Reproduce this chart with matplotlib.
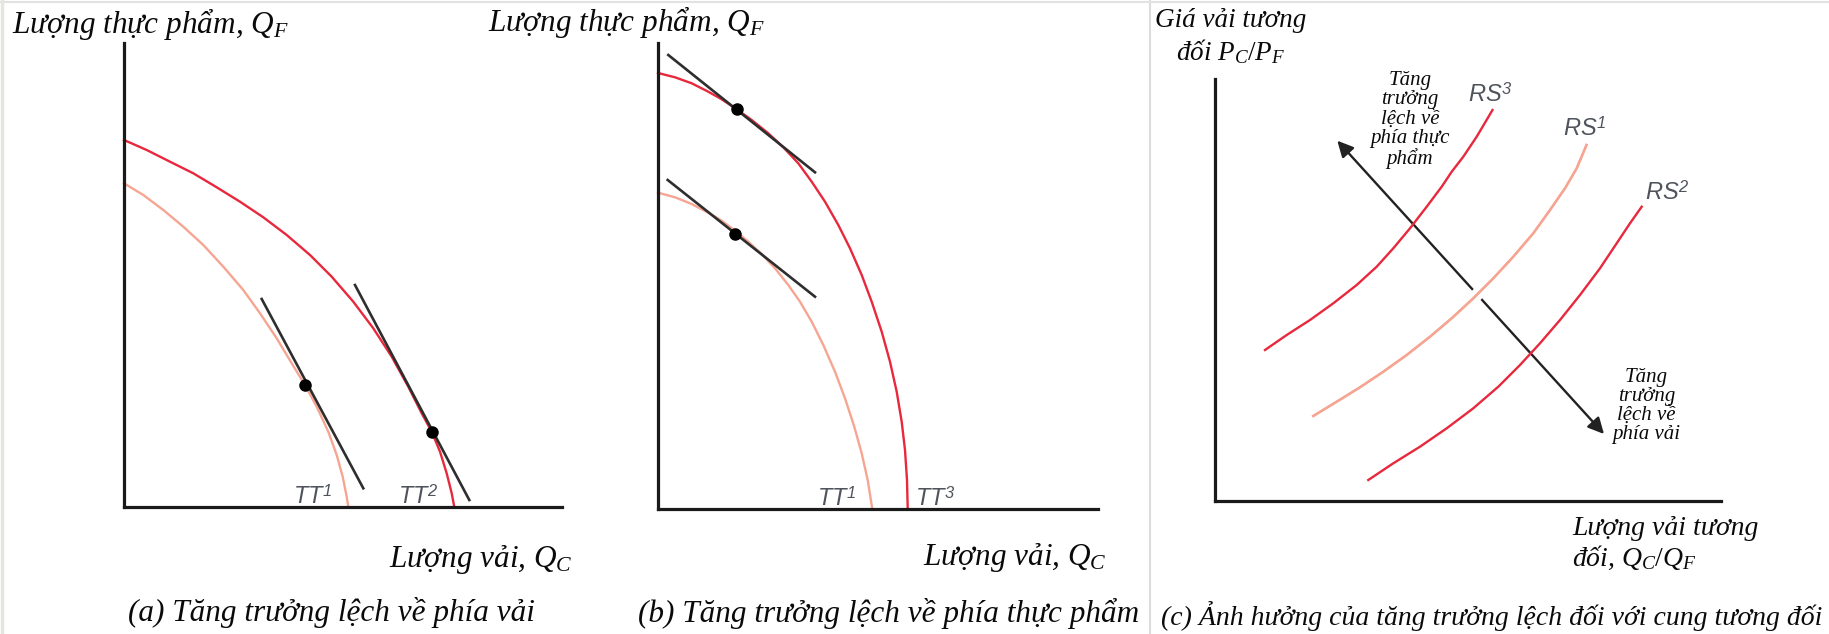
import matplotlib.pyplot as plt
import matplotlib.patheffects as pe
from matplotlib.lines import Line2D

plt.rcParams['mathtext.fontset'] = 'custom'
plt.rcParams['mathtext.it'] = 'Liberation Serif:italic'
plt.rcParams['mathtext.rm'] = 'Liberation Serif'
plt.rcParams['mathtext.sf'] = 'Liberation Sans:italic'

W, H = 1829, 634

# ---- data (units: pixels from each panel's origin) ----
# panel (a): growth biased toward cloth
a_tt2_x = [0, 22.7, 46, 69.3, 92.7, 116, 139.3, 162.7, 186, 207.7, 229.3, 249.3,
           267.7, 284.3, 297.7, 307.7, 316, 322.7, 327.7, 330.3]
a_tt2_y = [367, 357, 345.3, 333.7, 319.7, 305.3, 289.7, 272, 252, 230.3, 205.3, 178.7,
           150.3, 120.3, 93.7, 75.3, 55.3, 33.7, 13.7, 0]
a_tt1_x = [0, 19.3, 39.3, 59.3, 79.3, 99.3, 119.3, 136, 152.7, 167.7, 181, 192.7,
           204.3, 212.7, 218.7, 222.7, 224.3]
a_tt1_y = [323.7, 312, 297, 280.3, 262, 240.3, 217, 193.7, 168.7, 143.7, 122, 100.3,
           75.3, 52, 30.3, 10.3, 0]
a_line1_x = [137.7, 239.3]
a_line1_y = [208, 18.7]
a_line2_x = [231, 345.3]
a_line2_y = [222, 7]
a_dots_x = [181, 307.7]
a_dots_y = [122.5, 75.3]

# panel (b): growth biased toward food
b_tt3_x = [0, 17, 33.7, 50.3, 63.7, 78.7, 93.7, 110.3, 125.3, 140.3, 153.7, 167,
           180.3, 192, 203.7, 213.7, 223.7, 232, 238.7, 243.7, 247, 249, 249.7]
b_tt3_y = [436, 431.7, 425.7, 417.3, 409.7, 399.7, 389, 375.7, 361.7, 345.7, 327.3, 307.3,
           284, 260.7, 234, 207.3, 177.3, 147.3, 117.3, 87.3, 59, 29, 0]
b_tt1_x = [0, 17, 33.7, 50.3, 63.7, 77, 90.3, 103.7, 117, 130.3, 142, 153.7,
           165.3, 177, 187, 196.3, 203.7, 209.7, 214.3]
b_tt1_y = [316.3, 311.7, 305, 296.3, 288.3, 278.3, 267.3, 255, 240.7, 224, 207.3, 187.3,
           164, 137.3, 110.7, 82.3, 55.7, 29, 0]
b_line3_x = [10.3, 157]
b_line3_y = [454, 336.7]
b_line1_x = [9.7, 157]
b_line1_y = [329, 212.3]
b_dots_x = [78.7, 77]
b_dots_y = [399.7, 275]

# panel (c): relative supply curves
rs3_x = [50, 71.7, 95, 118.3, 141.7, 161.7, 178.3, 195, 211.7, 226.7, 236.7, 248.3,
         261.7, 277.5]
rs3_y = [151, 166, 181, 197.7, 216, 234.3, 252.7, 272.7, 294.3, 314.3, 329.3, 344.3,
         364.3, 391]
rs1_x = [98.3, 121.7, 145, 168.3, 191.7, 215, 236.7, 258.3, 278.3, 298.3, 318.3, 335,
         350, 361.7, 371.5]
rs1_y = [85, 99.3, 113.7, 129.3, 146, 164.3, 182.7, 202.7, 222.7, 244.3, 267.7, 291,
         312.7, 332.7, 356]
rs2_x = [153.3, 178.3, 205, 231.7, 258.3, 283.3, 305, 325, 345, 365, 385, 401.7,
         415, 426.7]
rs2_y = [21, 37.7, 54.3, 72.7, 92.7, 114.3, 136, 157.7, 181, 206, 232.7, 257.7,
         277.7, 294.3]
arrow_start = (389, 67)
arrow_end = (122.3, 360.3)

DARK = '#e8283c'
LIGHT = '#f6a592'
TAN = '#2e2e2e'
LBL = '#4f535b'
TXT = '#0a0a0a'

fig = plt.figure(figsize=(W / 100, H / 100), dpi=100)
fig.patch.set_facecolor('white')


def make_axes(ox, oy, wx, hy):
    ax = fig.add_axes([ox / W, (H - oy) / H, wx / W, hy / H])
    ax.set_xlim(0, wx)
    ax.set_ylim(0, hy)
    ax.set_xticks([])
    ax.set_yticks([])
    ax.patch.set_alpha(0)
    for s in ['top', 'right']:
        ax.spines[s].set_visible(False)
    for s in ['left', 'bottom']:
        ax.spines[s].set_linewidth(2.3)
        ax.spines[s].set_color('#1a1a1a')
        ax.spines[s].set_capstyle('projecting')
    return ax


def ftext(x, y, s, **kw):
    kw.setdefault('family', 'Liberation Serif')
    kw.setdefault('style', 'italic')
    kw.setdefault('color', TXT)
    fig.text(x / W, 1 - y / H, s, **kw)


# ---- panel (a) ----
ax = make_axes(124, 507, 438, 464.5)
ax.plot(a_tt1_x, a_tt1_y, color=LIGHT, lw=1.7, clip_on=False)
ax.plot(a_tt2_x, a_tt2_y, color=DARK, lw=1.7, clip_on=False)
ax.plot(a_line1_x, a_line1_y, color=TAN, lw=1.9, clip_on=False)
ax.plot(a_line2_x, a_line2_y, color=TAN, lw=1.9, clip_on=False)
ax.plot(a_dots_x, a_dots_y, 'o', color='black', ms=8, clip_on=False)
ax.text(169, 3, r'$\mathsf{TT}^{\mathsf{1}}$', fontsize=17, color=LBL, va='baseline')
ax.text(274, 3, r'$\mathsf{TT}^{\mathsf{2}}$', fontsize=17, color=LBL, va='baseline')

# ---- panel (b) ----
ax = make_axes(658, 509, 440, 466.5)
ax.plot(b_tt1_x, b_tt1_y, color=LIGHT, lw=1.7, clip_on=False)
ax.plot(b_tt3_x, b_tt3_y, color=DARK, lw=1.7, clip_on=False)
ax.plot(b_line3_x, b_line3_y, color=TAN, lw=1.9, clip_on=False)
ax.plot(b_line1_x, b_line1_y, color=TAN, lw=1.9, clip_on=False)
ax.plot(b_dots_x, b_dots_y, 'o', color='black', ms=8, clip_on=False)
ax.text(158.7, 3, r'$\mathsf{TT}^{\mathsf{1}}$', fontsize=17, color=LBL, va='baseline')
ax.text(257, 3, r'$\mathsf{TT}^{\mathsf{3}}$', fontsize=17, color=LBL, va='baseline')

# ---- panel (c) ----
ax = make_axes(1215, 501, 506, 422)
ax.annotate('', xy=arrow_end, xytext=arrow_start, annotation_clip=False,
            arrowprops=dict(arrowstyle='<|-|>', color='#222222', lw=1.7,
                            mutation_scale=24, shrinkA=0, shrinkB=0))
ax.plot(rs3_x, rs3_y, color=DARK, lw=1.7, clip_on=False, zorder=3)
ax.plot(rs1_x, rs1_y, color=LIGHT, lw=1.7, clip_on=False, zorder=3,
        path_effects=[pe.withStroke(linewidth=9, foreground='white'), pe.Normal()])
ax.plot(rs2_x, rs2_y, color=DARK, lw=1.7, clip_on=False, zorder=3)
ax.text(253, 399, r'$\mathsf{RS}^{\mathsf{3}}$', fontsize=17, color=LBL, va='baseline')
ax.text(348, 365, r'$\mathsf{RS}^{\mathsf{1}}$', fontsize=17, color=LBL, va='baseline')
ax.text(430, 301, r'$\mathsf{RS}^{\mathsf{2}}$', fontsize=17, color=LBL, va='baseline')
ax.text(195, 381, 'Tăng\ntrưởng\nlệch về\nphía thực\nphẩm', family='Liberation Serif',
        style='italic', fontsize=15, ha='center', va='center', linespacing=1.0,
        color=TXT, zorder=4)
ax.text(431.7, 95, 'Tăng\ntrưởng\nlệch về\nphía vải', family='Liberation Serif',
        style='italic', fontsize=15, ha='center', va='center', linespacing=1.0,
        color=TXT, zorder=4)

# ---- axis titles and captions ----
FS = 22.5
ftext(12, 24, 'Lượng thực phẩm, $Q_F$', fontsize=FS, va='center')
ftext(488, 22, 'Lượng thực phẩm, $Q_F$', fontsize=FS, va='center')
ftext(389, 560, 'Lượng vải, $Q_C$', fontsize=FS, va='center')
ftext(923, 558, 'Lượng vải, $Q_C$', fontsize=FS, va='center')
ftext(1231, 37, 'Giá vải tương\nđối $P_C/P_F$', fontsize=19.5, va='center', ha='center',
      multialignment='center', linespacing=1.2)
ftext(1572, 544, 'Lượng vải tương\nđối, $Q_C/Q_F$', fontsize=20, va='center',
      linespacing=1.15)
ftext(331, 613, '(a) Tăng trưởng lệch về phía vải', fontsize=FS, va='center', ha='center')
ftext(889, 613, '(b) Tăng trưởng lệch về phía thực phẩm', fontsize=FS, va='center', ha='center')
ftext(1492, 616, '(c) Ảnh hưởng của tăng trưởng lệch đối với cung tương đối', fontsize=20,
      va='center', ha='center')

# thin frame lines of the original scan
fig.add_artist(Line2D([1150 / W, 1150 / W], [0, 1], color='#dcdcdc', lw=1.5))
fig.add_artist(Line2D([0, 1], [1 - 2 / H, 1 - 2 / H], color='#e2e2e2', lw=1.5))
fig.add_artist(Line2D([1.5 / W, 1.5 / W], [0, 1], color='#e6e6de', lw=2.5))

fig.savefig('out.png', dpi=100, facecolor='white')
